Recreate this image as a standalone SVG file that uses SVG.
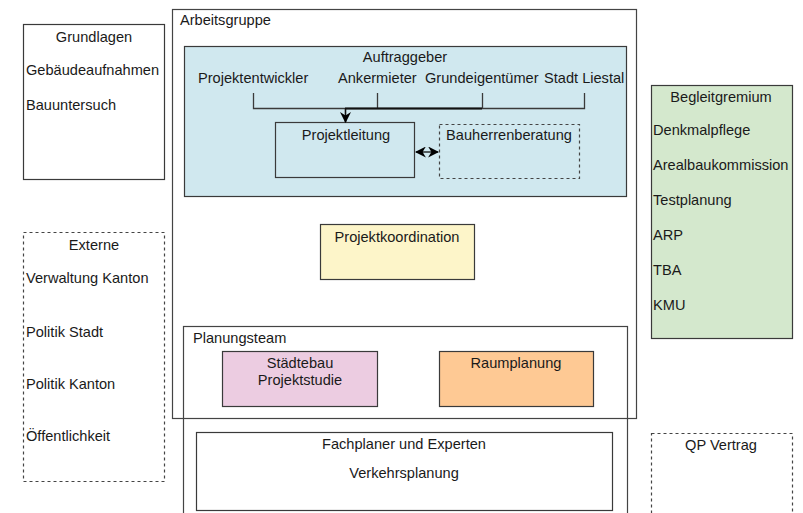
<svg xmlns="http://www.w3.org/2000/svg" width="803" height="513" viewBox="0 0 803 513">
<style>
text{font-family:"Liberation Sans",Arial,sans-serif;font-size:14.6px;fill:#1a1a1a}
.c{text-anchor:middle}
.box{stroke:#3a3a3a;stroke-width:1.2}
.dash{fill:#fff;stroke:#444;stroke-width:1.2;stroke-dasharray:3 3}
.ln{fill:none;stroke:#3a3a3a;stroke-width:1.3}
</style>
<defs>
<marker id="ah" viewBox="0 0 10 10" refX="9" refY="5" markerWidth="11" markerHeight="11" markerUnits="userSpaceOnUse" orient="auto-start-reverse">
<path d="M0,0 L10,5 L0,10 L3,5 Z" fill="#000"/>
</marker>
<marker id="ad" viewBox="0 0 10 10" refX="9" refY="5" markerWidth="11" markerHeight="11" markerUnits="userSpaceOnUse" orient="auto">
<path d="M0,0 L10,5 L0,10 L3,5 Z" fill="#000"/>
</marker>
</defs>
<rect width="803" height="513" fill="#fff"/>
<g id="grundlagen">
<rect class="box" x="23.5" y="24.5" width="141" height="155" fill="#fff"/>
<text class="c" x="94" y="42">Grundlagen</text>
<text x="26" y="75">Gebäudeaufnahmen</text>
<text x="26" y="110">Bauuntersuch</text>
</g>
<g id="externe">
<rect class="dash" x="23.5" y="232.5" width="141" height="249"/>
<text class="c" x="94" y="250">Externe</text>
<text x="26" y="283">Verwaltung Kanton</text>
<text x="26" y="337">Politik Stadt</text>
<text x="26" y="389">Politik Kanton</text>
<text x="26" y="441">Öffentlichkeit</text>
</g>
<g id="planungsteam">
<rect x="183.5" y="326.5" width="444" height="200" fill="#fff" stroke="#444" stroke-width="1.2"/>
<text x="193" y="343">Planungsteam</text>
</g>
<g id="arbeitsgruppe">
<rect x="172.5" y="9.5" width="464" height="409" fill="none" stroke="#444" stroke-width="1.2"/>
<text x="180" y="25">Arbeitsgruppe</text>
</g>
<g id="auftraggeber">
<rect class="box" x="184.5" y="46.5" width="442" height="150" fill="#d0e8ef"/>
<text class="c" x="405" y="62">Auftraggeber</text>
<text x="198" y="83">Projektentwickler</text>
<text x="338" y="83">Ankermieter</text>
<text x="425" y="83">Grundeigentümer</text>
<text x="544" y="83">Stadt Liestal</text>
</g>
<g id="projektleitung">
<rect class="box" x="275.5" y="122.5" width="139" height="55" fill="#d0e8ef"/>
<text class="c" x="346" y="140">Projektleitung</text>
</g>
<g id="bauherrenberatung">
<rect x="439.5" y="124.5" width="140" height="54" fill="#d0e8ef" stroke="#444" stroke-width="1.2" stroke-dasharray="3 3"/>
<text class="c" x="509" y="140">Bauherrenberatung</text>
</g>
<g id="projektkoordination">
<rect class="box" x="320.5" y="224.5" width="154" height="55" fill="#fdf5c9"/>
<text class="c" x="397" y="242">Projektkoordination</text>
</g>
<g id="staedtebau">
<rect class="box" x="222.5" y="351.5" width="155" height="55" fill="#eccce1"/>
<text class="c" x="300" y="368">Städtebau</text>
<text class="c" x="300" y="385">Projektstudie</text>
</g>
<g id="raumplanung">
<rect class="box" x="439.5" y="351.5" width="154" height="55" fill="#fec994"/>
<text class="c" x="516" y="368">Raumplanung</text>
</g>
<g id="fachplaner">
<rect class="box" x="196.5" y="432.5" width="416" height="78" fill="#fff"/>
<text class="c" x="404" y="449">Fachplaner und Experten</text>
<text class="c" x="404" y="478">Verkehrsplanung</text>
</g>
<g id="begleitgremium">
<rect class="box" x="651.5" y="85.5" width="141" height="253" fill="#d4e8cd"/>
<text class="c" x="721" y="102">Begleitgremium</text>
<text x="653" y="135">Denkmalpflege</text>
<text x="653" y="170">Arealbaukommission</text>
<text x="653" y="205">Testplanung</text>
<text x="653" y="240">ARP</text>
<text x="653" y="275">TBA</text>
<text x="653" y="310">KMU</text>
</g>
<g id="qpvertrag">
<rect class="dash" x="651.5" y="433.5" width="141" height="100"/>
<text class="c" x="721" y="450">QP Vertrag</text>
</g>
<g id="connectors">
<path class="ln" d="M253.5,93 V108.5 H584.5 V93 M377.5,93 V108.5 M482.5,93 V108.5"/>
<path d="M345,108.5 H482" stroke="#111" stroke-width="2" fill="none"/>
<path d="M345.5,108.5 V122" stroke="#111" stroke-width="1.6" fill="none" marker-end="url(#ad)"/>
<path d="M416,152 H438" stroke="#111" stroke-width="1.3" fill="none" marker-start="url(#ah)" marker-end="url(#ah)"/>
</g>
</svg>
